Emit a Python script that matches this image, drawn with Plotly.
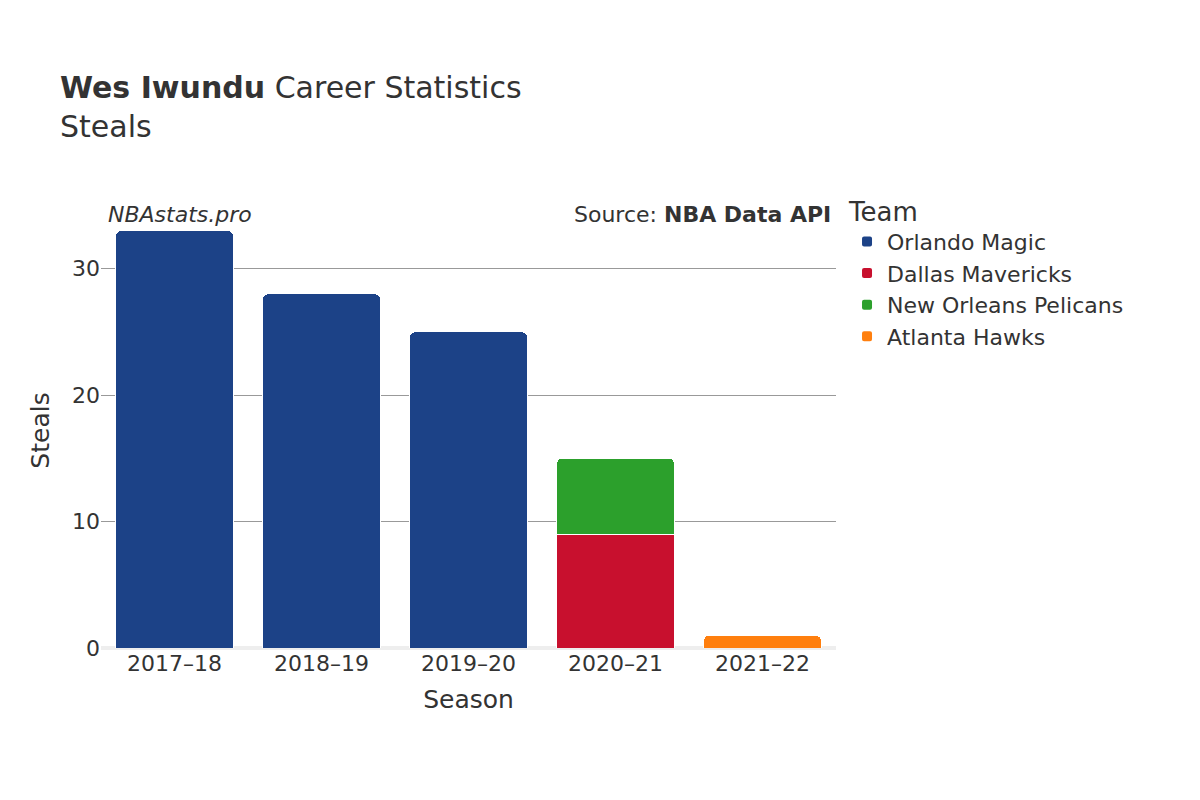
import plotly.graph_objects as go

seasons = ["2017–18", "2018–19", "2019–20", "2020–21", "2021–22"]
teams = ["Orlando Magic", "Dallas Mavericks", "New Orleans Pelicans", "Atlanta Hawks"]
colors = ["#1c4287", "#c8102e", "#2ca02c", "#ff7f0e"]
steals = {
    "Orlando Magic": [33, 28, 25, None, None],
    "Dallas Mavericks": [None, None, None, 9, None],
    "New Orleans Pelicans": [None, None, None, 6, None],
    "Atlanta Hawks": [None, None, None, None, 1],
}

fig = go.Figure()
for team, color in zip(teams, colors):
    fig.add_trace(go.Bar(x=seasons, y=steals[team], name=team,
                         marker=dict(color=color, line=dict(color="white", width=1))))

plot_l, plot_r, plot_t, plot_b = 93, 828, 205, 640
plot_w, plot_h = plot_r - plot_l, plot_b - plot_t

fig.update_layout(
    barmode="stack", bargap=0.2, barcornerradius=5,
    width=1200, height=800,
    font=dict(family="DejaVu Sans", color="#333", size=22),
    plot_bgcolor="white", paper_bgcolor="white",
    margin=dict(l=plot_l, r=1200 - plot_r, t=plot_t, b=800 - plot_b),
    title=dict(text="<b>Wes Iwundu</b> Career Statistics<br>Steals",
               x=52/1200, xanchor="left", y=0.888, yanchor="top", font=dict(size=30)),
    xaxis=dict(title=dict(text="Season", font=dict(size=25)), tickfont=dict(size=22),
               automargin=False),
    yaxis=dict(title=dict(text="Steals", font=dict(size=25)), range=[0, 34.4],
               gridcolor="#999", tickvals=[0, 10, 20, 30], zeroline=True,
               zerolinecolor="#eee", zerolinewidth=4, automargin=False),
    legend=dict(title=dict(text="Team", font=dict(size=26)), x=1.015, y=1.06,
                yanchor="top", font=dict(size=22), traceorder="normal",
                itemsizing="constant", tracegroupgap=6),
    annotations=[
        dict(text="<i>NBAstats.pro</i>", x=(98 - plot_l) / plot_w,
             y=(plot_b - 192) / plot_h, xref="paper", yref="paper",
             showarrow=False, xanchor="left", font=dict(size=22)),
        dict(text="Source: <b>NBA Data API</b>", x=(825 - plot_l) / plot_w,
             y=(plot_b - 192) / plot_h, xref="paper", yref="paper",
             showarrow=False, xanchor="right", font=dict(size=22)),
    ],
)
fig.write_html("out.html")
